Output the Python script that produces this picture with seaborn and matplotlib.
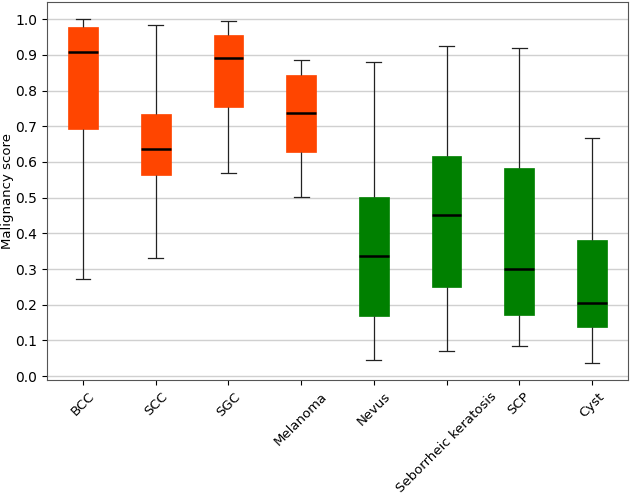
import numpy as np
import pandas as pd
import matplotlib
matplotlib.use('Agg')
import matplotlib.pyplot as plt
import seaborn as sns

# ── Data (five-number summaries) ──────────────────────────────
categories = ["BCC", "SCC", "SGC", "Melanoma", "Nevus",
              "Seborrheic keratosis", "SCP", "Cyst"]
mins    = [0.271, 0.331, 0.568, 0.502, 0.046, 0.070, 0.085, 0.037]
q1s     = [0.693, 0.564, 0.753, 0.629, 0.169, 0.250, 0.171, 0.139]
medians = [0.907, 0.635, 0.890, 0.736, 0.337, 0.451, 0.301, 0.206]
q3s     = [0.978, 0.734, 0.957, 0.843, 0.503, 0.618, 0.583, 0.381]
maxs    = [1.000, 0.984, 0.994, 0.885, 0.879, 0.925, 0.918, 0.668]
malignant = [True, True, True, True, False, False, False, False]

MALIGNANT_COLOR = "#FF4500"
BENIGN_COLOR    = "#008000"

# long table: five points per class reproduce the quartiles exactly
rows = []
for i, cat in enumerate(categories):
    for v in (mins[i], q1s[i], medians[i], q3s[i], maxs[i]):
        rows.append({"category": cat, "score": v})
df = pd.DataFrame(rows)

palette = {c: (MALIGNANT_COLOR if m else BENIGN_COLOR)
           for c, m in zip(categories, malignant)}

plt.rcParams['font.family'] = ['DejaVu Sans']
fig, ax = plt.subplots(figsize=(6.32, 4.95), dpi=100)

sns.boxplot(data=df, x="category", y="score", hue="category",
            order=categories, palette=palette, legend=False,
            saturation=1, whis=(0, 100), width=0.405, showfliers=False, ax=ax,
            linecolor="black", linewidth=0.9,
            boxprops=dict(linewidth=0.5),
            medianprops=dict(color="black", linewidth=1.8),
            whiskerprops=dict(color="#222222", linewidth=0.9),
            capprops=dict(color="#222222", linewidth=0.9))

# box edges match the fill
for patch, cat in zip(ax.patches, categories):
    patch.set_edgecolor(palette[cat])
    patch.set_alpha(1)

ax.set_xlim(-0.5, len(categories) - 0.5)
ax.set_yticks(np.arange(0, 1.01, 0.1))
ax.set_xlabel("")
ax.set_ylabel("Malignancy score", fontsize=9.5, labelpad=1)
ax.tick_params(axis='y', labelsize=10)
ax.tick_params(axis='x', labelsize=9.5)
ax.set_xticks(range(len(categories)))
ax.set_xticklabels(categories, rotation=45)
ax.yaxis.grid(True, color="#d0d0d0", linewidth=1)
ax.set_axisbelow(True)
for s in ax.spines.values():
    s.set_color("#555555")

fig.subplots_adjust(left=0.074, right=0.994, top=0.996, bottom=0.232)
plt.savefig("out.png", dpi=100)
plt.close()
